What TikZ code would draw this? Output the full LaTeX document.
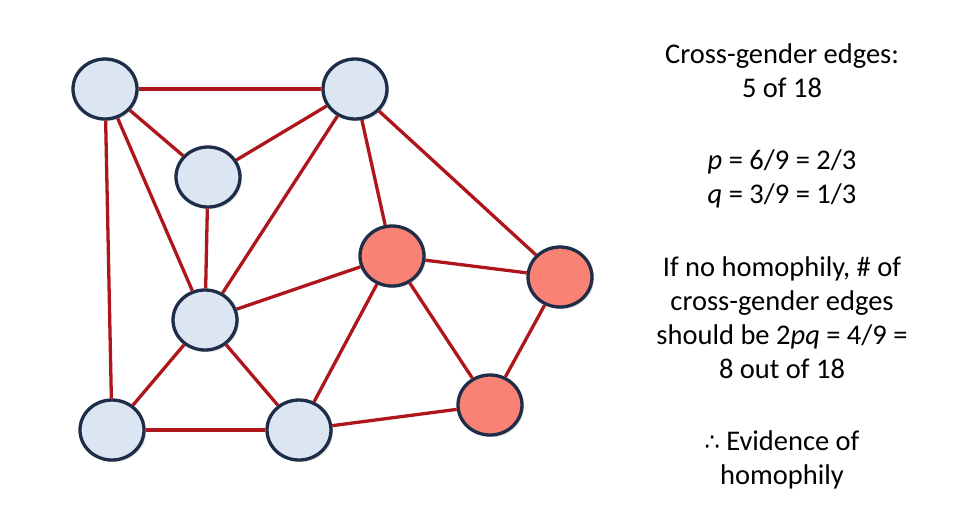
\documentclass[tikz,border=0pt]{standalone}
\usepackage{fontspec}
\setmainfont{Carlito}
\newfontfamily\symfont{DejaVu Sans}
\usepackage{tikz}
\usetikzlibrary{shapes.geometric, shadows}

\definecolor{edgered}{RGB}{175,22,28}
\definecolor{rimblue}{RGB}{30,45,72}
\definecolor{paleblue}{RGB}{220,230,242}
\definecolor{salmon}{RGB}{250,130,116}

\begin{document}
\begin{tikzpicture}[x=1pt,y=-1pt,-,auto,
  edge line/.style={draw=edgered,line width=3.3pt},
  main node/.style={ellipse,draw=rimblue,line width=3.3pt,minimum width=64pt,minimum height=60pt,
    inner sep=0pt,general shadow={fill=black!25,opacity=.5,shadow xshift=2pt,shadow yshift=-2pt}},
  boy/.style={main node,fill=paleblue},
  girl/.style={main node,fill=salmon}]
  \useasboundingbox (0,0) rectangle (960,515);

  \node[boy] (a) at (105,89) {};
  \node[boy] (b) at (355,89) {};
  \node[boy] (c) at (208,177) {};
  \node[boy] (d) at (205,320) {};
  \node[girl] (e) at (392,256) {};
  \node[girl] (f) at (560,277) {};
  \node[boy] (g) at (112,430) {};
  \node[boy] (h) at (299,430) {};
  \node[girl] (i) at (490,405) {};

  \path[edge line]
    (a) edge (b)
    (a) edge (c)
    (a) edge (d)
    (a) edge (g)
    (b) edge (c)
    (b) edge (d)
    (b) edge (e)
    (b) edge (f)
    (c) edge (d)
    (d) edge (e)
    (d) edge (g)
    (d) edge (h)
    (e) edge (f)
    (e) edge (h)
    (e) edge (i)
    (f) edge (i)
    (g) edge (h)
    (h) edge (i);

  % the counts on the right
  \node (notes) [anchor=north,align=center,inner sep=0pt,font=\fontsize{28.5}{34}\selectfont] at (782,44)
    {Cross-gender edges:\\ 5 of 18\\[38pt]
     \textit{p} = 6/9 = 2/3\\ \textit{q} = 3/9 = 1/3\\[38pt]
     If no homophily, \# of\\ cross-gender edges\\ should be 2\textit{pq} = 4/9 =\\ 8 out of 18\\[38pt]
     {\symfont\fontsize{24}{34}\selectfont ∴} Evidence of\\ homophily};
\end{tikzpicture}
\end{document}
